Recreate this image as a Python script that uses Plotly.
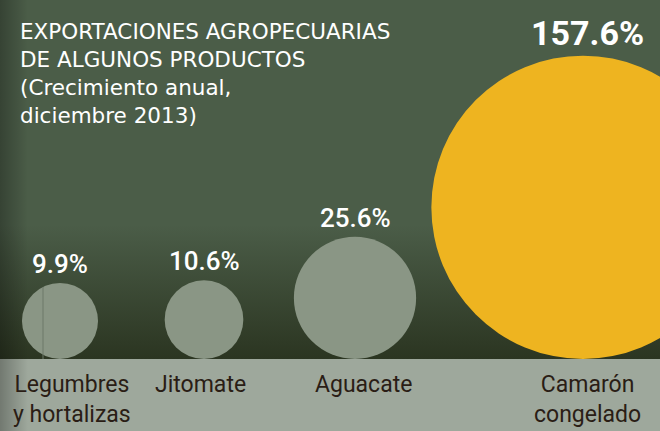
import numpy as np
import plotly.graph_objects as go

categories = ["Legumbres<br>y hortalizas", "Jitomate", "Aguacate", "Camarón<br>congelado"]
values = [9.9, 10.6, 25.6, 157.6]
value_labels = ["9.9%", "10.6%", "25.6%", "157.6%"]
title_text = "EXPORTACIONES AGROPECUARIAS<br>DE ALGUNOS PRODUCTOS<br>(Crecimiento anual,<br>diciembre 2013)"

W, H = 660, 431
BASE = 359
centers_x = [60, 204, 355, 583]
label_x = [72, 200, 363, 587]
K = 12.08  # px per sqrt(percent)
circle_colors = ["#8a9685", "#8a9685", "#8a9685", "#eeb420"]

fig = go.Figure()

fig.add_trace(go.Scatter(x=[0, W, W, 0, 0], y=[0, 0, BASE, BASE, 0], mode="lines",
                         line=dict(width=0), fill="toself",
                         fillgradient=dict(type="vertical", start=BASE, stop=225,
                                           colorscale=[[0, "#2b3521"], [1, "#4b5d48"]]),
                         hoverinfo="skip", showlegend=False))
fig.add_trace(go.Scatter(x=[0, W, W, 0, 0], y=[BASE, BASE, H, H, BASE], mode="lines",
                         line=dict(width=0), fill="toself", fillcolor="#9ea89c",
                         hoverinfo="skip", showlegend=False))
fig.add_trace(go.Scatter(x=[0, 28, 28, 0, 0], y=[0, 0, H, H, 0], mode="lines",
                         line=dict(width=0), fill="toself",
                         fillgradient=dict(type="horizontal", start=0, stop=28,
                                           colorscale=[[0, "rgba(0,0,0,0.28)"], [1, "rgba(0,0,0,0)"]]),
                         hoverinfo="skip", showlegend=False))

shapes = []
annotations = []
for i, v in enumerate(values):
    r = K * np.sqrt(v)
    cx = centers_x[i]
    cy = BASE - r
    shapes.append(dict(type="circle", xref="x", yref="y", x0=cx - r, x1=cx + r,
                       y0=cy - r, y1=cy + r, fillcolor=circle_colors[i], line=dict(width=0),
                       layer="above"))
    big = i == 3
    annotations.append(dict(x=cx + (4 if big else 0), y=BASE - 2 * r - (1 if big else 2),
                            xref="x", yref="y", text=value_labels[i], showarrow=False,
                            yanchor="bottom", xanchor="center",
                            font=dict(family="Roboto", size=34 if big else 26,
                                      color="white", weight="bold" if big else 500)))
    annotations.append(dict(x=label_x[i], y=369, xref="x", yref="y", text=categories[i],
                            showarrow=False, yanchor="top", xanchor="center", align="center",
                            font=dict(family="Roboto", size=23, color="#2a1d15")))

shapes.append(dict(type="line", xref="x", yref="y", x0=43, x1=43, y0=BASE - 2 * K * np.sqrt(values[0]) + 4,
                   y1=BASE, line=dict(color="#6d7868", width=1), layer="above"))

annotations.append(dict(x=18, y=17, xref="x", yref="y", text=title_text, showarrow=False,
                        xanchor="left", yanchor="top", align="left",
                        font=dict(family="DejaVu Sans", size=21.5, color="white")))

fig.update_layout(width=W, height=H, margin=dict(l=0, r=0, t=0, b=0),
                  paper_bgcolor="#4b5d48", plot_bgcolor="#4b5d48",
                  xaxis=dict(range=[0, W], visible=False, fixedrange=True),
                  yaxis=dict(range=[H, 0], visible=False, fixedrange=True),
                  shapes=shapes, annotations=annotations, showlegend=False)
fig.write_html("out.html", config={"displayModeBar": False},
               post_script="document.body.style.margin='0';document.body.style.overflow='hidden';")
